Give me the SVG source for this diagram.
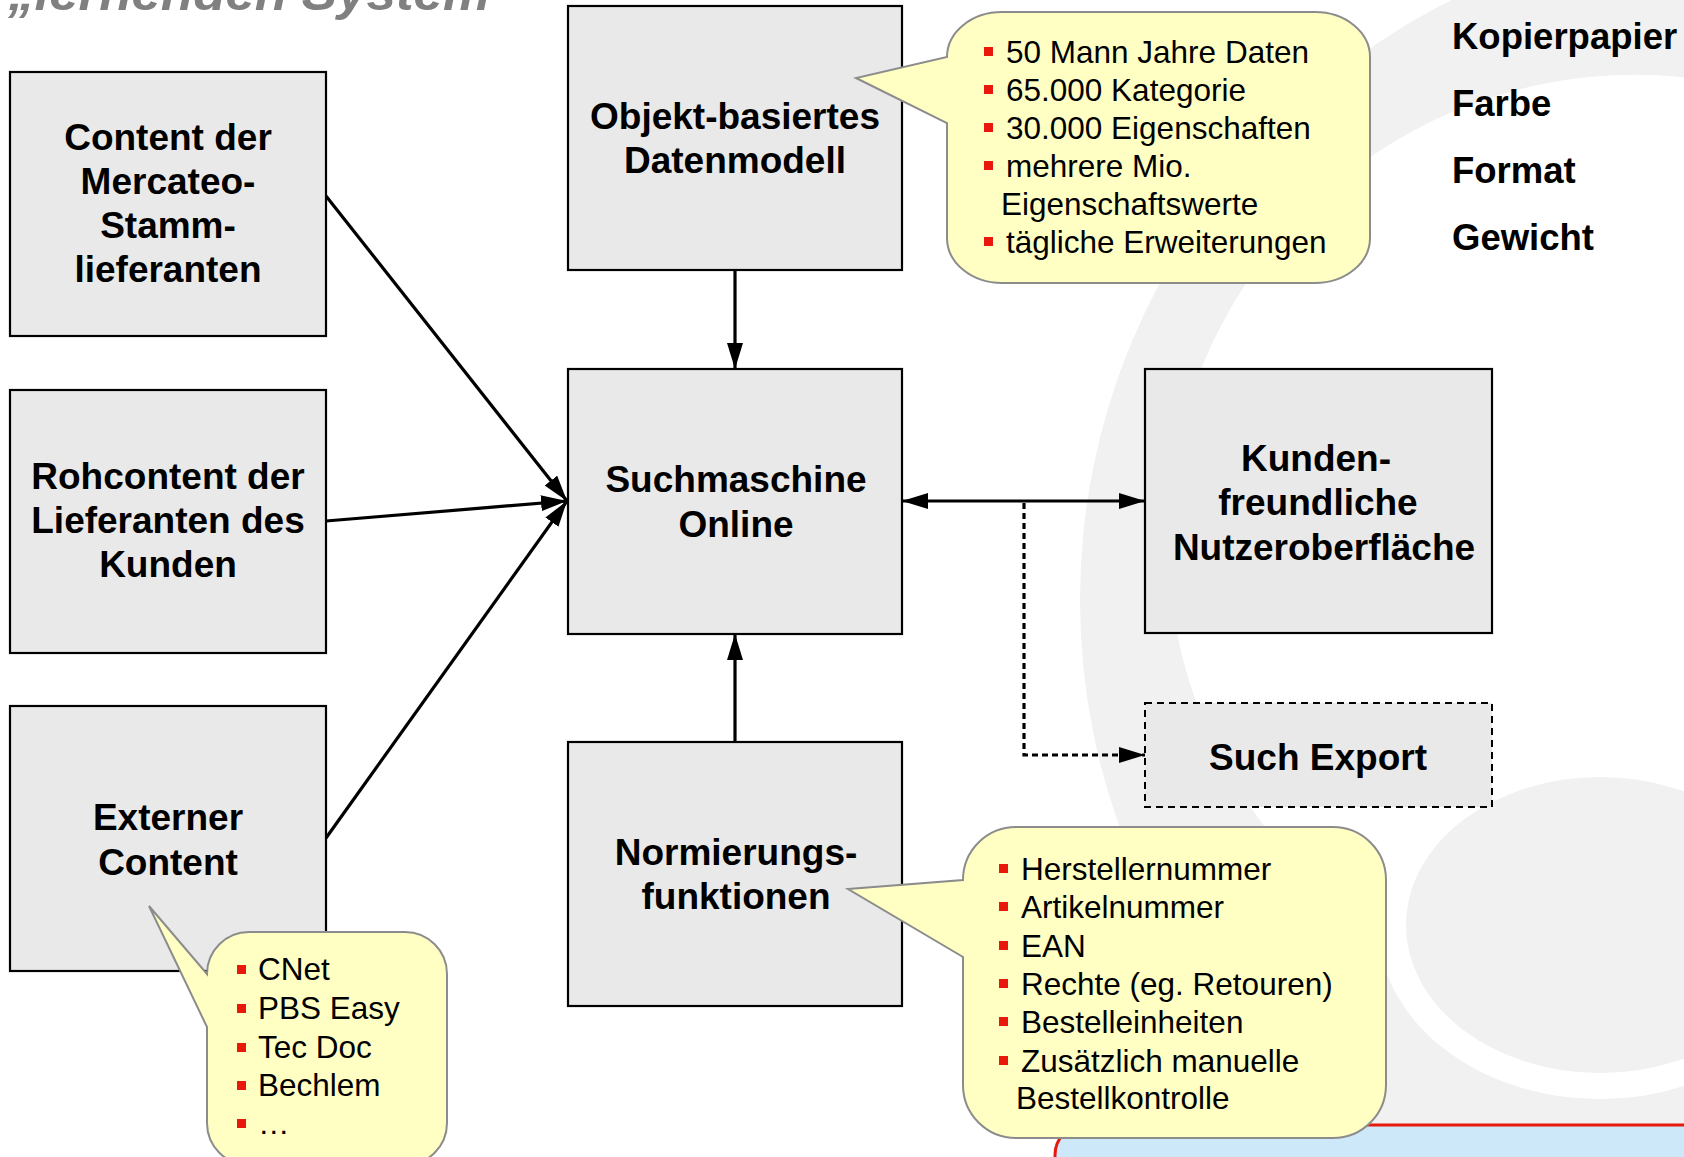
<svg xmlns="http://www.w3.org/2000/svg" width="1684" height="1157" viewBox="0 0 1684 1157">
<style>
.box{fill:#e9e9e9;stroke:#000;stroke-width:2.2}
.dbox{fill:#e9e9e9;stroke:#000;stroke-width:2;stroke-dasharray:7 5}
.lbl{font-family:"Liberation Sans",Arial,sans-serif;font-weight:bold;font-size:37px;fill:#000;text-anchor:middle}
.side{font-family:"Liberation Sans",Arial,sans-serif;font-weight:bold;font-size:36.5px;fill:#000}
.co{fill:#ffffc4;stroke:#8c8c8c;stroke-width:2}
.ct{font-family:"Liberation Sans",Arial,sans-serif;font-size:31.5px;fill:#000}
.bul{fill:#e8180c}
.ln{fill:none;stroke:#000;stroke-width:3.2}
</style>
<defs>
<marker id="arr" markerUnits="userSpaceOnUse" markerWidth="26" markerHeight="16" refX="26" refY="8" orient="auto-start-reverse">
<path d="M0,0 L26,8 L0,16 Z" fill="#000"/>
</marker>
</defs>
<rect width="1684" height="1157" fill="#fff"/>
<g id="background">
<path fill="#f1f1f1" fill-rule="evenodd" d="M1080,600 A670,670 0 1 0 2420,600 A670,670 0 1 0 1080,600 Z M1168,542 A467,467 0 1 0 2102,542 A467,467 0 1 0 1168,542 Z"/>
<ellipse cx="1600" cy="925" rx="222" ry="174" fill="#fff"/>
<ellipse cx="1600" cy="925" rx="194" ry="148" fill="#f1f1f1"/>
<rect x="1055" y="1125" width="720" height="120" rx="30" fill="#cde8f9" stroke="#e8180c" stroke-width="3"/>
<text x="8" y="10" font-family="Liberation Sans,Arial,sans-serif" font-weight="bold" font-style="italic" font-size="50" fill="#808080" textLength="482" lengthAdjust="spacingAndGlyphs">„lernenden System</text>
</g>
<g id="connectors">
<line class="ln" x1="326" y1="196" x2="567" y2="501" marker-end="url(#arr)"/>
<line class="ln" x1="326" y1="521" x2="567" y2="501" marker-end="url(#arr)"/>
<line class="ln" x1="326" y1="838" x2="567" y2="501" marker-end="url(#arr)"/>
<line class="ln" x1="735" y1="270" x2="735" y2="369" marker-end="url(#arr)"/>
<line class="ln" x1="735" y1="742" x2="735" y2="634" marker-end="url(#arr)"/>
<line class="ln" x1="902" y1="501" x2="1145" y2="501" stroke-width="4" marker-start="url(#arr)" marker-end="url(#arr)"/>
<path class="ln" d="M1024,503 V755 H1145" stroke-width="1.6" stroke-dasharray="6 4" marker-end="url(#arr)"/>
</g>
<g id="node-content-mercateo">
<rect class="box" x="10" y="72" width="316" height="264"/>
<text class="lbl" x="168" y="150">Content der</text>
<text class="lbl" x="168" y="194">Mercateo-</text>
<text class="lbl" x="168" y="238">Stamm-</text>
<text class="lbl" x="168" y="282">lieferanten</text>
</g>
<g id="node-rohcontent">
<rect class="box" x="10" y="390" width="316" height="263"/>
<text class="lbl" x="168" y="489">Rohcontent der</text>
<text class="lbl" x="168" y="533">Lieferanten des</text>
<text class="lbl" x="168" y="577">Kunden</text>
</g>
<g id="node-externer-content">
<rect class="box" x="10" y="706" width="316" height="265"/>
<text class="lbl" x="168" y="830">Externer</text>
<text class="lbl" x="168" y="875">Content</text>
</g>
<g id="node-objekt">
<rect class="box" x="568" y="6" width="334" height="264"/>
<text class="lbl" x="735" y="129">Objekt-basiertes</text>
<text class="lbl" x="735" y="173">Datenmodell</text>
</g>
<g id="node-suchmaschine">
<rect class="box" x="568" y="369" width="334" height="265"/>
<text class="lbl" x="736" y="492">Suchmaschine</text>
<text class="lbl" x="736" y="537">Online</text>
</g>
<g id="node-normierung">
<rect class="box" x="568" y="742" width="334" height="264"/>
<text class="lbl" x="736" y="865">Normierungs-</text>
<text class="lbl" x="736" y="909">funktionen</text>
</g>
<g id="node-kunden">
<rect class="box" x="1145" y="369" width="347" height="264"/>
<text class="lbl" x="1316" y="471">Kunden-</text>
<text class="lbl" x="1318" y="515">freundliche</text>
<text class="lbl" x="1324" y="560">Nutzeroberfläche</text>
</g>
<g id="node-such-export">
<rect class="dbox" x="1145" y="703" width="347" height="104"/>
<text class="lbl" x="1318" y="770">Such Export</text>
</g>
<g id="attributes">
<text class="side" x="1452" y="49">Kopierpapier</text>
<text class="side" x="1452" y="116">Farbe</text>
<text class="side" x="1452" y="183">Format</text>
<text class="side" x="1452" y="250">Gewicht</text>
</g>
<g id="callout-datenmodell">
<path class="co" d="M1002,12 H1315 A55,45 0 0 1 1370,57 V238 A55,45 0 0 1 1315,283 H1002 A55,45 0 0 1 947,238 V123 L856,78 L947,57 A55,45 0 0 1 1002,12 Z"/>
<rect class="bul" x="984" y="47" width="9" height="9"/>
<text class="ct" x="1006" y="63">50 Mann Jahre Daten</text>
<rect class="bul" x="984" y="85" width="9" height="9"/>
<text class="ct" x="1006" y="101">65.000 Kategorie</text>
<rect class="bul" x="984" y="123" width="9" height="9"/>
<text class="ct" x="1006" y="139">30.000 Eigenschaften</text>
<rect class="bul" x="984" y="161" width="9" height="9"/>
<text class="ct" x="1006" y="177">mehrere Mio.</text>
<text class="ct" x="1001" y="215">Eigenschaftswerte</text>
<rect class="bul" x="984" y="237" width="9" height="9"/>
<text class="ct" x="1006" y="253">tägliche Erweiterungen</text>
</g>
<g id="callout-normierung">
<path class="co" d="M1016,827 H1333 A53,53 0 0 1 1386,880 V1085 A53,53 0 0 1 1333,1138 H1016 A53,53 0 0 1 963,1085 V957 L848,889 L963,880 A53,53 0 0 1 1016,827 Z"/>
<rect class="bul" x="999" y="864" width="9" height="9"/>
<text class="ct" x="1021" y="880">Herstellernummer</text>
<rect class="bul" x="999" y="902" width="9" height="9"/>
<text class="ct" x="1021" y="918">Artikelnummer</text>
<rect class="bul" x="999" y="941" width="9" height="9"/>
<text class="ct" x="1021" y="957">EAN</text>
<rect class="bul" x="999" y="979" width="9" height="9"/>
<text class="ct" x="1021" y="995">Rechte (eg. Retouren)</text>
<rect class="bul" x="999" y="1017" width="9" height="9"/>
<text class="ct" x="1021" y="1033">Bestelleinheiten</text>
<rect class="bul" x="999" y="1056" width="9" height="9"/>
<text class="ct" x="1021" y="1072">Zusätzlich manuelle</text>
<text class="ct" x="1016" y="1109">Bestellkontrolle</text>
</g>
<g id="callout-extern">
<path class="co" d="M249,932 H405 A42,42 0 0 1 447,974 V1123 A42,42 0 0 1 405,1165 H249 A42,42 0 0 1 207,1123 V1027 L149,906 L207,974 A42,42 0 0 1 249,932 Z"/>
<rect class="bul" x="237" y="965" width="9" height="9"/>
<text class="ct" x="258" y="980">CNet</text>
<rect class="bul" x="237" y="1004" width="9" height="9"/>
<text class="ct" x="258" y="1019">PBS Easy</text>
<rect class="bul" x="237" y="1043" width="9" height="9"/>
<text class="ct" x="258" y="1058">Tec Doc</text>
<rect class="bul" x="237" y="1081" width="9" height="9"/>
<text class="ct" x="258" y="1096">Bechlem</text>
<rect class="bul" x="237" y="1119" width="9" height="9"/>
<text class="ct" x="258" y="1134">…</text>
</g>
</svg>
